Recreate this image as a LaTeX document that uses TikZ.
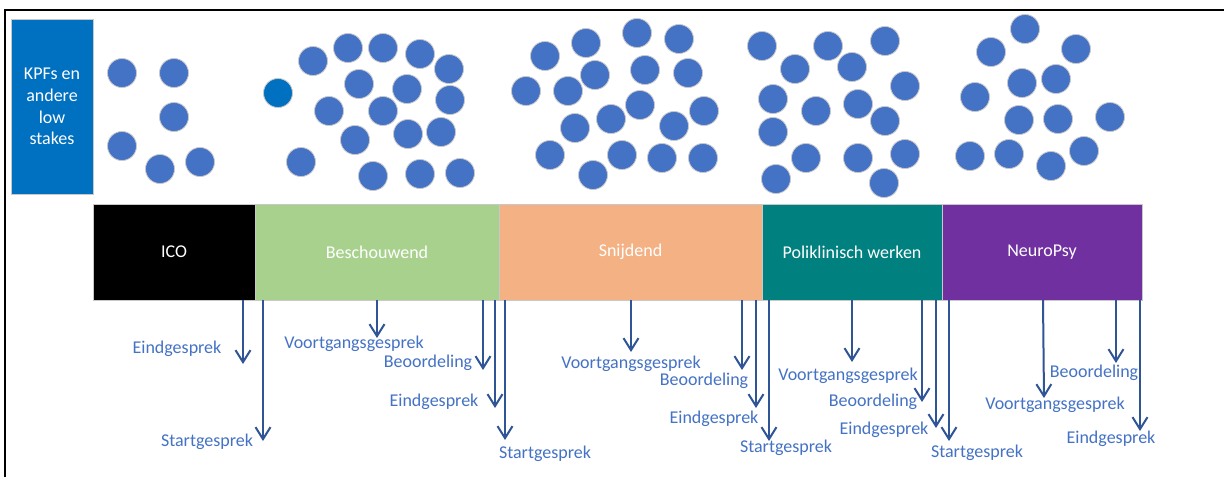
\documentclass[tikz,border=0pt]{standalone}
\usepackage{fontspec}
\setmainfont{Carlito}
\usetikzlibrary{arrows.meta}
\definecolor{kpfblue}{HTML}{0070C0}
\definecolor{circblue}{HTML}{4472C4}
\definecolor{besch}{HTML}{A9D18E}
\definecolor{snij}{HTML}{F4B183}
\definecolor{poli}{HTML}{00807F}
\definecolor{neuro}{HTML}{7030A0}
\definecolor{arrowblue}{HTML}{2F5597}
\definecolor{labelblue}{HTML}{4472C4}
\definecolor{edgegrey}{HTML}{C8C8C8}
\tikzset{
  dot/.style={circle, fill=circblue, draw=edgegrey, line width=0.8pt, minimum size=29pt, inner sep=0pt},
  darkdot/.style={dot, fill=kpfblue},
  barbox/.style={rectangle, draw=edgegrey, line width=0.8pt, minimum height=96pt, inner sep=0pt, text=white, font=\fontsize{18}{21.6}\selectfont},
  lbl/.style={text=labelblue, inner sep=0pt, font=\fontsize{18}{21.6}\selectfont},
  arr/.style={draw=arrowblue, line width=2pt, -{Straight Barb[length=12pt,width=15pt,line width=2pt]}},
}
\begin{document}
\begin{tikzpicture}[x=1pt,y=-1pt]
\useasboundingbox (0,0) rectangle (1224,477);
\fill[white] (0,0) rectangle (1224,477);
% frame
\draw[line width=2.5pt] (1224,10) -- (5,10) -- (5,477);
% KPF box
\node[rectangle, fill=kpfblue, draw=edgegrey, line width=0.8pt, minimum width=82pt, minimum height=175pt, inner sep=0pt, text=white, align=center, font=\fontsize{18}{21.6}\selectfont] (kpf) at (52,106.5) {KPFs en\\andere\\low\\stakes};
% circles
\foreach \cx/\cy [count=\i] in {122/73,174/73,174/117,122/146,160/169,200/162,
  313/61,348/48,383/48,420/54,449/69,359/84,407/89,450/100,329/111,383/111,355/140,408/134,441/132,301/162,373/176,420/174,460/173,
  545/56,586/43,637/33,679/39,595/75,645/70,688/73,526/91,568/91,640/105,611/119,704/111,575/128,674/126,550/155,622/155,662/158,703/158,593/175,
  762/46,795/69,828/46,852/67,885/41,905/86,773/99,816/111,858/104,885/121,773/132,806/158,858/158,905/154,776/179,884/183,
  1025/29,991/52,1076/49,1022/83,1056/79,975/97,1019/120,1058/119,1110/117,970/156,1009/154,1051/166,1084/151}
  {\node[dot] (c\i) at (\cx,\cy) {};}
\node[darkdot] (cdark) at (278,93) {};
% bar
\node[barbox, fill=black, minimum width=162pt] (ico) at (174,252) {ICO};
\node[barbox, fill=besch, minimum width=244pt] (besch) at (377,252) {Beschouwend};
\node[barbox, fill=snij, minimum width=263pt] (snij) at (630.5,252) {Snijdend};
\node[barbox, fill=poli, minimum width=180pt] (poli) at (852,252) {Poliklinisch werken};
\node[barbox, fill=neuro, minimum width=200pt] (neuro) at (1042,252) {NeuroPsy};
% arrows
\foreach \n/\sx/\ex/\ey in {1/243/243/364, 2/263/263/441, 3/377/377/338, 4/483/483/370, 5/495/495/408, 6/505/505/440,
  7/631/631/352, 8/742/742/370, 9/756/756/408, 10/769/769/441, 11/852/852/362, 12/922/922/402, 13/936/936/428,
  14/949/949/441, 15/1043/1044/398, 16/1116/1116/363, 17/1140/1140/431}
  {\coordinate (s\n) at (\sx,300); \coordinate (e\n) at (\ex,\ey); \draw[arr] (s\n) -- (e\n);}
% labels
\node[lbl] (l1) at (177,349) {Eindgesprek};
\node[lbl] (l2) at (207,442) {Startgesprek};
\node[lbl] (l3) at (354,344) {Voortgangsgesprek};
\node[lbl] (l4) at (428,363) {Beoordeling};
\node[lbl] (l5) at (434,402) {Eindgesprek};
\node[lbl] (l6) at (545,454) {Startgesprek};
\node[lbl] (l7) at (631,364) {Voortgangsgesprek};
\node[lbl] (l8) at (704,381) {Beoordeling};
\node[lbl] (l9) at (714,419) {Eindgesprek};
\node[lbl] (l10) at (786,448) {Startgesprek};
\node[lbl] (l11) at (848,376) {Voortgangsgesprek};
\node[lbl] (l12) at (873,402) {Beoordeling};
\node[lbl] (l13) at (884,430) {Eindgesprek};
\node[lbl] (l14) at (977,453) {Startgesprek};
\node[lbl] (l15) at (1055,405) {Voortgangsgesprek};
\node[lbl] (l16) at (1094,373) {Beoordeling};
\node[lbl] (l17) at (1111,439) {Eindgesprek};
\end{tikzpicture}
\end{document}
